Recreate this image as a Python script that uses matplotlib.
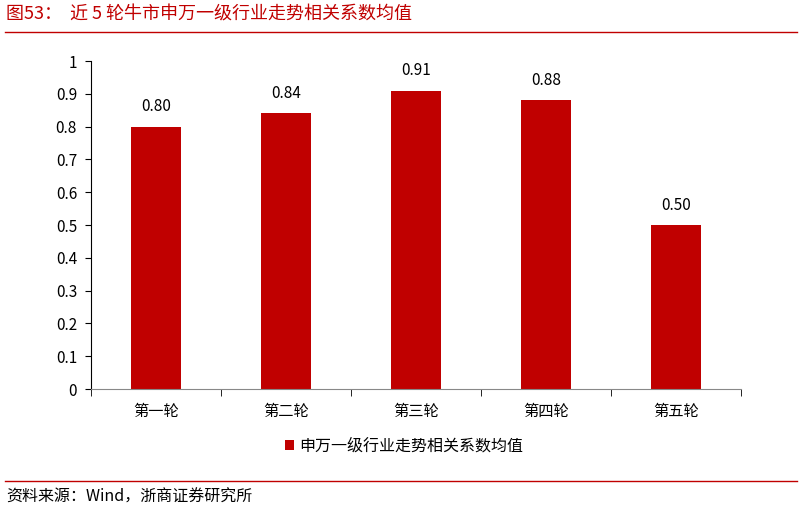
import matplotlib
matplotlib.use("Agg")
import matplotlib.pyplot as plt
from matplotlib.lines import Line2D
import numpy as np

plt.rcParams['font.family'] = ['Noto Sans CJK SC', 'DejaVu Sans']

categories = ["第一轮", "第二轮", "第三轮", "第四轮", "第五轮"]
values = [0.80, 0.84, 0.91, 0.88, 0.50]
series_name = "申万一级行业走势相关系数均值"
yticks = [0, 0.1, 0.2, 0.3, 0.4, 0.5, 0.6, 0.7, 0.8, 0.9, 1]
ytick_labels = ["0", "0.1", "0.2", "0.3", "0.4", "0.5", "0.6", "0.7", "0.8", "0.9", "1"]
title = "图53：  近 5 轮牛市申万一级行业走势相关系数均值"
source = "资料来源：Wind，浙商证券研究所"

red = "#C00000"
W, H = 802, 511
fig = plt.figure(figsize=(W / 100, H / 100), dpi=100)
ax = fig.add_axes([91 / W, 1 - 389 / H, 650 / W, 328 / H])

x = np.arange(len(categories))
bars = ax.bar(x, values, width=0.39, color=red, label=series_name)
for xi, v in zip(x, values):
    ax.text(xi, v + 0.035, f"{v:.2f}", ha="center", va="bottom", fontsize=11, color="#000000")

ax.set_xlim(-0.5, len(categories) - 0.5)
ax.set_ylim(0, 1)
ax.set_yticks(yticks)
ax.set_yticklabels(ytick_labels, fontsize=11)
ax.set_xticks(x)
ax.set_xticklabels(categories, fontsize=11)
ax.tick_params(axis="x", which="major", length=0, pad=10)
ax.set_xticks(np.arange(-0.5, len(categories)), minor=True)
ax.tick_params(axis="x", which="minor", length=5, direction="out", color="#000000")
ax.tick_params(axis="y", length=4, direction="out", pad=6)
for s in ["top", "right"]:
    ax.spines[s].set_visible(False)
ax.spines["left"].set_color("#000000")
ax.spines["bottom"].set_color("#888888")

leg = fig.legend(handles=[bars], labels=[series_name], loc="center",
                 bbox_to_anchor=(404 / W, 1 - 446 / H), frameon=False,
                 fontsize=11.5, handlelength=0.6, handleheight=0.6, handletextpad=0.3)

fig.text(6 / W, 1 - 15 / H, title, color=red, fontsize=13, ha="left", va="center")
fig.add_artist(Line2D([5 / W, 797 / W], [1 - 32 / H, 1 - 32 / H], color=red, lw=1))
fig.add_artist(Line2D([5 / W, 797 / W], [1 - 481 / H, 1 - 481 / H], color=red, lw=1))
fig.text(6 / W, 1 - 497 / H, source, color="#000000", fontsize=11.5, ha="left", va="center")

fig.savefig("out.png", dpi=100)
